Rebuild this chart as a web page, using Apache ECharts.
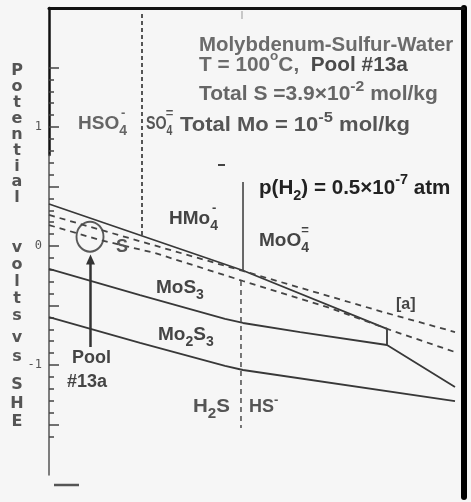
<!DOCTYPE html>
<html><head><meta charset="utf-8">
<script src="https://cdn.jsdelivr.net/npm/echarts@6/dist/echarts.min.js"></script>
<style>html,body{margin:0;padding:0;background:#f6f6f6;}#c{width:471px;height:502px;}</style>
</head><body><div id="c"></div>
<script>
// ---- Data: [pH, potential (V vs SHE)] ----
const boundaryUpper  = [[0,0.353],[6.69,-0.206],[11.655,-0.697],[11.655,-0.832],[14,-1.185]];
const boundaryMiddle = [[0,-0.193],[3.14,-0.412],[6.07,-0.613],[6.69,-0.647],[8.66,-0.723],[11.655,-0.832]];
const boundaryLower  = [[0,-0.597],[3.14,-0.815],[6.07,-1.008],[6.69,-1.042],[14,-1.303]];
const dashedA        = [[0,0.261],[6.69,-0.210],[11.52,-0.555],[14,-0.723]];
const dashedB        = [[0,0.176],[1.76,0.050],[3.655,-0.059],[6.69,-0.294],[9.69,-0.521],[11.86,-0.714],[14,-0.891]];
const hso4Boundary   = [[3.207,1.95],[3.207,0.085]];
const h2sBoundary    = [[6.62,-0.294],[6.62,-1.529]];
const hmoo4Boundary  = [[6.69,0.538],[6.69,-0.206]];
const pool13a        = [[1.414,0.078]];
const poolArrow      = [[1.431,-0.849],[1.431,-0.113]];
const yTickLabels    = {'1':'1','0':'0','-1':'-1'};

const F = '"Liberation Sans", Arial, Helvetica, sans-serif';
const mctx = document.createElement('canvas').getContext('2d');
function measure(t, size) { mctx.font = 'bold ' + size + 'px ' + F; return mctx.measureText(t).width; }
function tok(size, color, va) {
  const o = {fontSize:size, fontWeight:'bold', fontFamily:F, fill:color};
  if (va) { o.verticalAlign = va; o.lineHeight = size; } else { o.lineHeight = Math.round(size*1.5); }
  return o;
}
function rtext(x, y, text, rich, sx) {
  return {type:'text', x:x, y:y, scaleX:sx||1, silent:true, z:100,
    style:{text:text, rich:rich, align:'left', verticalAlign:'middle', textAlign:'left', textVerticalAlign:'middle'}};
}
function ptext(x, y, text, size, color, align, sx) {
  return {type:'text', x:x, y:y, scaleX:sx||1, silent:true, z:100,
    style:{text:text, font:'bold '+size+'px '+F, fill:color, align:align||'left', verticalAlign:'middle', textAlign:align||'left', textVerticalAlign:'middle'}};
}
// species label with subscript and a charge stacked above the subscript
function species(x, y, main, sub, charge, size, color, sx) {
  sx = sx || 1;
  const subSize = 14;
  const out = [rtext(x, y, '{a|' + main + '}{b|' + sub + '}', {a:tok(size, color), b:tok(subSize, color, 'bottom')}, sx)];
  if (charge) {
    const cx = x + (measure(main, size) + measure(sub, subSize) / 2) * sx;
    out.push(ptext(cx, y - 11, charge, 13, color, 'center'));
  }
  return out;
}
function vtext(x, top, text, lh) {
  return {type:'text', x:x, y:top, silent:true, z:100,
    style:{text:text, font:'bold 16px "DejaVu Sans", sans-serif', fill:'#555', lineHeight:lh, align:'center', verticalAlign:'top', textAlign:'center', textVerticalAlign:'top'}};
}

const W = 414.7;
const hid = (g) => ({gridIndex:g, type:'value', min:0, max:1, show:false});
const solid = {color:'#383838', width:1.8};
const dashed = {color:'#444', width:1.8, type:[6,5]};

const graphics = [].concat(
  [
    rtext(199, 45, '{a|Molybdenum-Sulfur-Water}', {a:tok(20,'#6b6b6b')}, 1.02),
    rtext(199, 65, '{a|T = 100}{o|o}{a|C,  }{b|Pool #13a}', {a:tok(20,'#6b6b6b'), o:tok(13,'#6b6b6b','top'), b:tok(20,'#4a4a4a')}, 1.04),
    rtext(199, 94, '{a|Total S =3.9×10}{s|-2}{a| mol/kg}', {a:tok(20,'#666'), s:tok(15,'#666','top')}, 1.05),
    rtext(180, 125, '{a|Total Mo = 10}{s|-5}{a| mol/kg}', {a:tok(20,'#555'), s:tok(15,'#555','top')}, 1.1),
    rtext(259, 188, '{a|p(H}{b|2}{a|) = 0.5×10}{s|-7}{a| atm}', {a:tok(20,'#222'), b:tok(14,'#222','bottom'), s:tok(14,'#222','top')}, 1.03)
  ],
  species(78, 124, 'HSO', '4', '-', 19, '#666'),
  species(146, 124, 'SO', '4', '=', 19, '#555', 0.75),
  species(169, 219, 'HMo', '4', '-', 19, '#444'),
  species(259, 241, 'MoO', '4', '=', 19, '#444'),
  species(156, 288, 'MoS', '3', null, 19, '#444'),
  [
    rtext(158, 335, '{a|Mo}{b|2}{a|S}{b|3}', {a:tok(19,'#444'), b:tok(14,'#444','bottom')}),
    rtext(193, 407, '{a|H}{b|2}{a|S}', {a:tok(19,'#555'), b:tok(14,'#555','bottom')}, 1.08),
    rtext(249, 407, '{a|HS}{s|-}', {a:tok(18,'#555'), s:tok(13,'#555','top')}),
    ptext(116, 247, 'S', 18, '#555'),
    ptext(396, 305, '[a]', 16, '#444'),
    ptext(72, 358, 'Pool', 18, '#444'),
    ptext(67, 382, '#13a', 18, '#444'),
    vtext(17, 63, 'P\no\nt\ne\nn\nt\ni\na\nl', 15.9),
    vtext(17, 239.5, 'v\no\nl\nt\ns', 17),
    vtext(17, 328.5, 'v\ns', 19),
    vtext(17, 375.75, 'S\nH\nE', 18.5),
    {type:'line', silent:true, shape:{x1:218, y1:165, x2:225, y2:165}, style:{stroke:'#444', lineWidth:2}},
    {type:'line', silent:true, shape:{x1:54, y1:485, x2:79, y2:485}, style:{stroke:'#555', lineWidth:2.5}},
    {type:'line', silent:true, shape:{x1:242, y1:11, x2:242, y2:19}, style:{stroke:'#999', lineWidth:1}}
  ]
);

const option = {
  backgroundColor:'#f6f6f6',
  animation:false,
  grid:[
    {left:49, top:8, width:W, height:476},
    {left:49, top:8, width:W, height:489},
    {left:49, top:8, width:W, height:147},
    {left:49, top:155, width:W, height:320},
    {left:49, top:67.5, width:W, height:368.9},
    {left:49, top:67.5, width:W, height:357}
  ],
  xAxis:[
    {gridIndex:0, type:'value', min:0, max:14.3, position:'top',
     axisLine:{show:true, onZero:false, lineStyle:{color:'#111', width:3}},
     axisTick:{show:false}, axisLabel:{show:false}, splitLine:{show:false}},
    hid(1), hid(2), hid(3), hid(4), hid(5)
  ],
  yAxis:[
    {gridIndex:0, type:'value', min:-2, max:2, show:false},
    {gridIndex:1, type:'value', min:0, max:1, position:'right',
     axisLine:{show:true, onZero:false, lineStyle:{color:'#000', width:6}},
     axisTick:{show:false}, axisLabel:{show:false}, splitLine:{show:false}},
    {gridIndex:2, type:'value', min:0, max:1, position:'left',
     axisLine:{show:true, onZero:false, lineStyle:{color:'#111', width:2.5}},
     axisTick:{show:false}, axisLabel:{show:false}, splitLine:{show:false}},
    {gridIndex:3, type:'value', min:0, max:1, position:'left',
     axisLine:{show:true, onZero:false, lineStyle:{color:'#555', width:1.5}},
     axisTick:{show:false}, axisLabel:{show:false}, splitLine:{show:false}},
    {gridIndex:4, type:'value', min:-1.6, max:1.5, interval:0.1, position:'left',
     axisLine:{show:false, onZero:false},
     axisTick:{show:true, inside:true, length:5, lineStyle:{color:'#444', width:1.5}},
     axisLabel:{show:false}, splitLine:{show:false}},
    {gridIndex:5, type:'value', min:-1.5, max:1.5, interval:0.5, position:'left',
     axisLine:{show:false, onZero:false},
     axisTick:{show:true, inside:true, length:10, lineStyle:{color:'#444', width:1.5}},
     axisLabel:{show:true, margin:7, color:'#555', fontFamily:'"DejaVu Sans Mono", monospace', fontSize:12,
       formatter:function(v){ const k = String(Math.round(v*10)/10); return yTickLabels[k] || ''; }},
     splitLine:{show:false}}
  ],
  series:[
    {type:'line', data:boundaryUpper, symbol:'none', silent:true, lineStyle:solid},
    {type:'line', data:boundaryMiddle, symbol:'none', silent:true, lineStyle:solid},
    {type:'line', data:boundaryLower, symbol:'none', silent:true, lineStyle:solid},
    {type:'line', data:hmoo4Boundary, symbol:'none', silent:true, lineStyle:{color:'#383838', width:1.5}},
    {type:'line', data:dashedA, symbol:'none', silent:true, lineStyle:dashed},
    {type:'line', data:dashedB, symbol:'none', silent:true, lineStyle:dashed},
    {type:'line', data:hso4Boundary, symbol:'none', silent:true, lineStyle:{color:'#555', width:2, type:[4,3]}},
    {type:'line', data:h2sBoundary, symbol:'none', silent:true, lineStyle:{color:'#555', width:1.6, type:[5,4]}},
    {type:'scatter', data:pool13a, symbol:'circle', symbolSize:[27,30], silent:true,
     itemStyle:{color:'rgba(0,0,0,0)', borderColor:'#333', borderWidth:2}},
    {type:'line', symbol:'triangle', showSymbol:true, silent:true,
     data:poolArrow.map(function(p,i){ return i ? {value:p, symbol:'triangle', symbolSize:[9,10]} : {value:p, symbol:'none'}; }),
     lineStyle:{color:'#333', width:2.5}, itemStyle:{color:'#333'}}
  ],
  graphic:graphics
};
const chart = echarts.init(document.getElementById('c'), null, {renderer:'canvas'});
chart.setOption(option);
</script>
</body></html>
